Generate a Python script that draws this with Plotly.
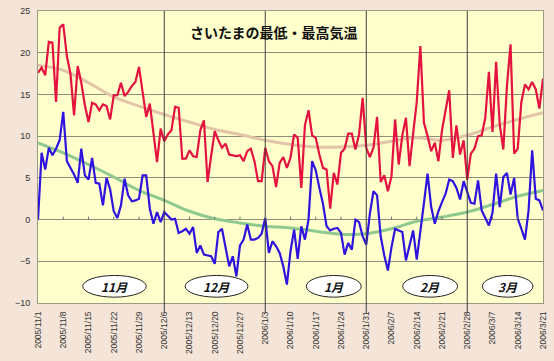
import pandas as pd
import plotly.graph_objects as go

# ---- data ----
dates = pd.date_range("2005-11-01", "2006-03-21", freq="D")

max_temp = [
    17.6, 18.2, 17.3, 21.3, 21.2, 14.1, 23.0, 23.4, 19.6, 17.5,
    12.5, 18.4, 16.4, 13.7, 11.7, 14.0, 13.8, 13.1, 13.8, 13.6,
    12.0, 14.9, 14.9, 16.4, 14.8, 15.3, 16.0, 16.5, 18.3, 15.0,
    12.3, 13.9, 10.2, 6.9, 10.9, 9.4, 10.2, 10.7, 13.5, 13.4,
    7.3, 7.3, 8.3, 7.6, 7.5, 10.7, 11.9, 4.5, 7.6, 10.6,
    9.5, 8.6, 9.1, 7.8, 7.7, 7.6, 7.7, 7.0, 8.2, 8.5,
    7.0, 4.6, 4.6, 8.6, 7.0, 6.4, 3.9, 6.8, 7.5, 6.2,
    7.4, 10.2, 9.8, 3.8, 11.3, 13.1, 10.1, 9.8, 7.8, 6.2,
    6.0, 1.3, 5.6, 4.2, 8.0, 8.5, 10.3, 10.3, 8.4, 10.2,
    14.6, 8.6, 7.5, 8.6, 12.3, 4.5, 5.3, 3.4, 5.2, 12.0,
    6.6, 10.1, 12.2, 6.4, 10.3, 14.1, 20.8, 11.6, 10.0, 8.2,
    9.2, 7.0, 10.7, 13.3, 15.5, 7.4, 11.3, 7.8, 9.5, 4.8,
    7.9, 8.5, 10.0, 10.1, 12.2, 17.7, 10.5, 18.9, 11.4, 8.4,
    16.0, 21.0, 7.9, 8.5, 14.1, 16.2, 15.6, 16.5, 15.6, 13.3,
    16.9,
]

min_temp = [
    0.0, 8.0, 6.0, 8.6, 7.7, 8.5, 9.5, 12.9, 7.0, 6.2,
    5.4, 4.4, 8.5, 5.3, 4.8, 7.4, 4.4, 4.3, 1.7, 5.0,
    3.6, 1.0, 0.2, 1.7, 4.9, 2.9, 2.2, 2.3, 2.5, 5.3,
    5.3, 1.3, -0.5, 0.9, -0.3, 0.9, 0.5, 0.0, 0.1, -1.6,
    -1.4, -1.1, -1.7, -0.9, -4.0, -3.1, -4.2, -4.3, -4.4, -5.3,
    -1.5, -1.1, -3.2, -5.6, -4.4, -6.8, -3.1, -2.4, -0.6, -2.4,
    -2.4, -2.2, -1.7, 0.2, -4.0, -2.6, -3.2, -4.0, -5.6, -7.8,
    -3.8, -1.2, -4.7, -0.8, -2.4, 0.0, 7.0, 5.9, 3.8, 1.9,
    -0.8, -1.3, -1.1, -1.0, -1.6, -4.2, -2.8, -3.6, 0.0, -0.3,
    -2.0, -3.0, 0.7, 3.4, 2.9, -2.0, -4.3, -6.1, -3.3, -1.1,
    -1.3, -1.5, -4.9, -2.9, -1.3, -4.8, -1.6, 2.0, 5.5, 1.5,
    -0.5, 1.0, 2.1, 3.1, 4.8, 4.6, 3.8, 2.4, 4.6, 3.3,
    2.0, 1.9, 4.7, 1.1, 0.1, -0.7, 0.8, 5.5, 1.5, 5.1,
    5.6, 3.0, 5.0, 0.1, -1.1, -2.4, 1.1, 8.3, 2.5, 2.3,
    1.1,
]

# weekly dates (also the x tick positions)
week_dates = pd.date_range("2005-11-01", "2006-03-21", freq="7D")
tick_labels = [
    "2005/11/1", "2005/11/8", "2005/11/15", "2005/11/22", "2005/11/29",
    "2005/12/6", "2005/12/13", "2005/12/20", "2005/12/27", "2006/1/3",
    "2006/1/10", "2006/1/17", "2006/1/24", "2006/1/31", "2006/2/7",
    "2006/2/14", "2006/2/21", "2006/2/28", "2006/3/7", "2006/3/14",
    "2006/3/21",
]

# normal (climatological) max / min, read weekly
normal_max = [18.5, 17.9, 16.4, 14.7, 13.6, 12.6, 11.7, 10.8, 10.2, 9.5,
              9.0, 8.7, 8.7, 8.9, 9.4, 9.8, 9.5, 10.1, 11.1, 12.0, 12.8]
normal_min = [9.2, 8.0, 6.6, 5.1, 3.5, 2.3, 1.0, 0.1, -0.4, -0.8,
              -1.0, -1.4, -1.75, -1.7, -1.1, -0.2, 0.3, 0.9, 1.8, 2.8, 3.5]

month_lines = ["2005-12-06", "2006-01-03", "2006-01-31", "2006-02-28"]
month_names = ["11月", "12月", "1月", "2月", "3月"]
month_centers = ["2005-11-22 05:00", "2005-12-20 12:00", "2006-01-22",
                 "2006-02-17 17:00", "2006-03-11 05:00"]
month_halfwidth_days = [8.8, 8.7, 7.6, 7.6, 7.0]

title = "さいたまの最低・最高気温"

# ---- figure ----
fig = go.Figure()

fig.add_trace(go.Scatter(x=week_dates, y=normal_max, mode="lines",
                         line=dict(color="#E2C4A8", width=3, shape="spline"),
                         hoverinfo="skip"))
fig.add_trace(go.Scatter(x=week_dates, y=normal_min, mode="lines",
                         line=dict(color="#8FC98F", width=3, shape="spline"),
                         hoverinfo="skip"))
fig.add_trace(go.Scatter(x=dates, y=max_temp, mode="lines",
                         line=dict(color="#E4123E", width=2.2)))
fig.add_trace(go.Scatter(x=dates, y=min_temp, mode="lines",
                         line=dict(color="#2E14DE", width=2.2)))

shapes = []
for d in month_lines:
    shapes.append(dict(type="line", xref="x", yref="paper", x0=d, x1=d,
                       y0=-0.035, y1=1, line=dict(color="#3C3C3C", width=1),
                       layer="above"))
for d in week_dates[1:-1]:
    shapes.append(dict(type="line", xref="x", yref="y", x0=d, x1=d,
                       y0=0, y1=0.35, line=dict(color="#707070", width=1)))

annotations = [dict(text="<b>" + title + "</b>", xref="paper", yref="paper",
                    x=0.467, y=0.929, xanchor="center", yanchor="middle",
                    showarrow=False,
                    font=dict(family="Noto Sans CJK JP", size=14, color="#111111"))]

for name, c, hw in zip(month_names, month_centers, month_halfwidth_days):
    cdt = pd.Timestamp(c)
    x0 = cdt - pd.Timedelta(days=hw)
    x1 = cdt + pd.Timedelta(days=hw)
    shapes.append(dict(type="circle", xref="x", yref="y", x0=x0, x1=x1,
                       y0=-9.3, y1=-6.7, fillcolor="white",
                       line=dict(color="#222222", width=1), layer="above"))
    annotations.append(dict(text="<b><i>" + name + "</i></b>", xref="x", yref="y",
                            x=cdt, y=-8.0, xanchor="center", yanchor="middle",
                            showarrow=False,
                            font=dict(family="Noto Sans CJK JP", size=12,
                                      color="#111111")))

fig.update_layout(
    width=554, height=361,
    margin=dict(l=38, r=6, t=7, b=58),
    paper_bgcolor="#F4E5D8",
    plot_bgcolor="#FFFFCC",
    showlegend=False,
    shapes=shapes,
    annotations=annotations,
)

fig.update_xaxes(
    range=[dates[0], dates[-1]],
    tickvals=week_dates, ticktext=tick_labels, tickangle=-90,
    tickfont=dict(family="Liberation Sans", size=8.5, color="#333333"),
    showgrid=False, zeroline=False,
    showline=True, linecolor="#9A9A8A", linewidth=1, mirror=True,
    ticks="outside", ticklen=4, tickcolor="rgba(0,0,0,0)",
)
fig.update_yaxes(
    range=[-10, 25], dtick=5, tick0=-10,
    tickfont=dict(family="Liberation Sans", size=9, color="#333333"),
    showgrid=True, gridcolor="#8E8E7E", gridwidth=1, zeroline=False,
    showline=True, linecolor="#9A9A8A", linewidth=1, mirror=True,
    ticks="outside", ticklen=5, tickcolor="rgba(0,0,0,0)",
)

fig.write_html("out.html",
               config={"displayModeBar": False},
               post_script="document.body.style.margin='0';"
                           "document.body.style.background='#F4E5D8';")
